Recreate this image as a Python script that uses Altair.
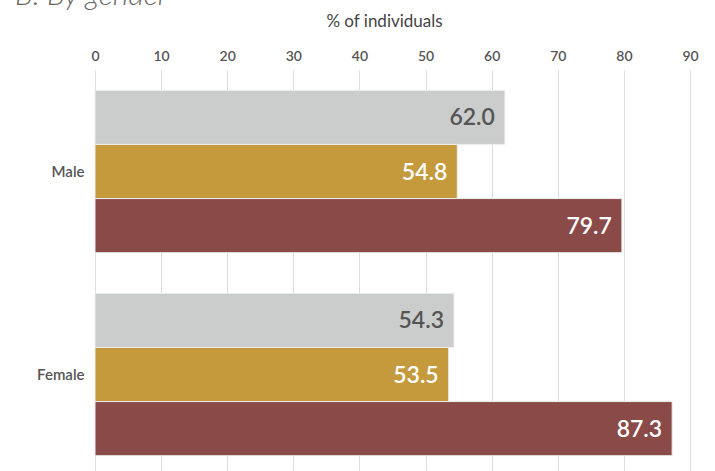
import altair as alt
import pandas as pd

genders = ["Male", "Female"]
series = ["Series 1", "Series 2", "Series 3"]
male_values = [62.0, 54.8, 79.7]
female_values = [54.3, 53.5, 87.3]
bar_colors = ["#cbcdcc", "#c49a3c", "#8a4a48"]
text_colors = ["#555555", "#ffffff", "#ffffff"]
x_ticks = list(range(0, 91, 10))

rows = []
for g, vals in zip(genders, [male_values, female_values]):
    for s, v, tc in zip(series, vals, text_colors):
        rows.append({"gender": g, "series": s, "value": v, "label": f"{v:.1f}", "tcolor": tc})
df = pd.DataFrame(rows)

x_enc = alt.X(
    "value:Q",
    scale=alt.Scale(domain=[0, 90], nice=False),
    axis=alt.Axis(
        orient="top", values=x_ticks, title="% of individuals", grid=True,
        gridColor="#dddddd", gridWidth=1, domain=False, ticks=False, labelFlush=False,
        labelColor="#555555", labelFontSize=14, labelPadding=7, labelFont="Lato",
        labelFontWeight=600,
        titleFont="Lato", titleFontSize=17, titleFontWeight="normal",
        titleColor="#444444", titlePadding=19, titleX=289,
    ),
)
y_enc = alt.Y(
    "gender:N", sort=genders,
    scale=alt.Scale(paddingInner=0.2, paddingOuter=0.1),
    axis=alt.Axis(title=None, ticks=False, domain=False, labelFontSize=15,
                  labelPadding=11, labelColor="#555555", labelFont="Lato",
                  labelFontWeight=600),
)
yoff = alt.YOffset("series:N", sort=series, scale=alt.Scale(paddingInner=0, paddingOuter=0))

bars = alt.Chart(df).mark_bar(stroke="#eeeeee", strokeWidth=1).encode(
    x=x_enc, y=y_enc, yOffset=yoff,
    color=alt.Color("series:N", scale=alt.Scale(domain=series, range=bar_colors), legend=None),
)
labels = alt.Chart(df).mark_text(align="right", baseline="middle", dx=-10, dy=1, fontSize=23,
                                 font="Lato", fontWeight=600).encode(
    x=alt.X("value:Q"), y=alt.Y("gender:N", sort=genders), yOffset=yoff,
    text="label:N", color=alt.Color("tcolor:N", scale=None),
)
title = alt.Chart(pd.DataFrame({"t": ["B. By gender"]})).mark_text(
    align="left", baseline="alphabetic", fontSize=30, font="Lato",
    fontStyle="italic", fontWeight=300, color="#666666",
).encode(text="t:N", x=alt.value(-80), y=alt.value(-65))

chart = alt.layer(bars, labels, title).properties(
    width=595, height=406,
    padding={"left": 95, "top": 70, "right": 25, "bottom": 0},
    autosize=alt.AutoSizeParams(type="none"),
).configure_view(stroke=None)

chart.save("out.html", embed_options={"renderer": "svg", "actions": False})
